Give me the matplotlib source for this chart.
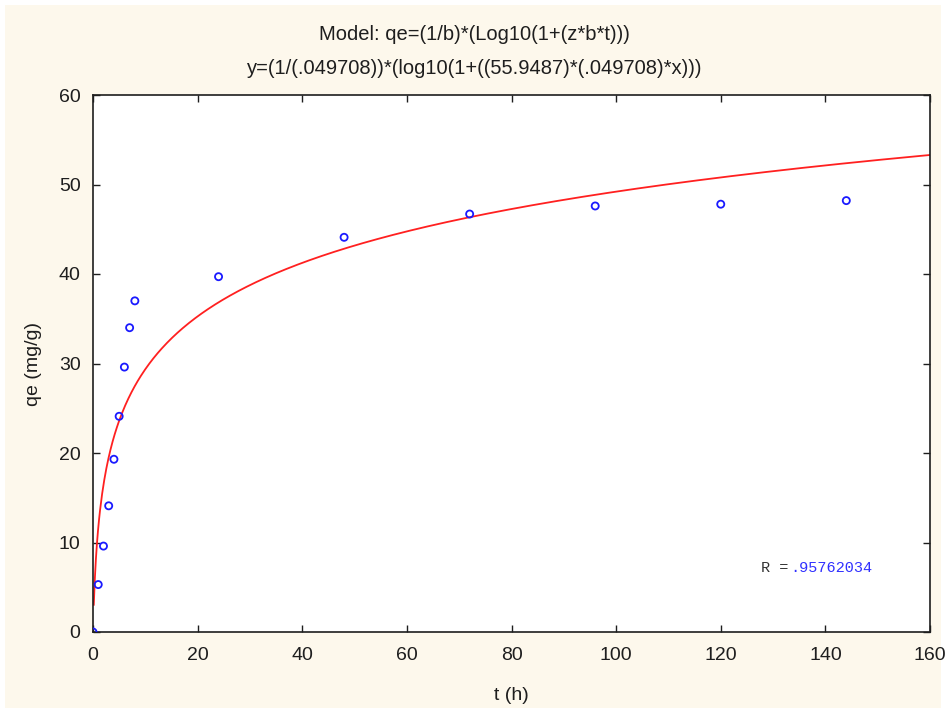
import matplotlib
matplotlib.use('Agg')
import matplotlib.pyplot as plt
import matplotlib.patches as mpatches
import numpy as np

# measured points
t_obs = [0, 1, 2, 3, 4, 5, 6, 7, 8, 24, 48, 72, 96, 120, 144]
qe_obs = [0.0, 5.3, 9.6, 14.1, 19.3, 24.1, 29.6, 34.0, 37.0, 39.7, 44.1, 46.7, 47.6, 47.8, 48.2]

# fitted Elovich parameters from the title
b = 0.049708
z = 55.9487
r_value = '.95762034'

x_ticks = [0, 20, 40, 60, 80, 100, 120, 140, 160]
y_ticks = [0, 10, 20, 30, 40, 50, 60]

cream = '#fdf8ec'
ink = '#1e1e1e'

fig = plt.figure(figsize=(9.46, 7.13), dpi=100)
fig.patch.set_facecolor('white')
fig.patches.append(mpatches.Rectangle((5 / 946, 5 / 713), 936 / 946, 703 / 713,
                                      transform=fig.transFigure, facecolor=cream,
                                      edgecolor='none', zorder=-1))

ax = fig.add_axes([93 / 946, 81 / 713, 837 / 946, 537 / 713])
ax.set_facecolor('white')

t_fit = np.linspace(0.15, 160, 800)
q_fit = (1 / b) * np.log10(1 + z * b * t_fit)
ax.plot(t_fit, q_fit, color='#ff2020', lw=1.3, zorder=2)
ax.scatter(t_obs, qe_obs, s=26, facecolors='none', edgecolors='#1a1aff', linewidths=1.3, zorder=3)

ax.set_xlim(0, 160)
ax.set_ylim(0, 60)
ax.set_xticks(x_ticks)
ax.set_yticks(y_ticks)
ax.tick_params(direction='in', top=True, right=True, length=5, width=1, labelsize=14,
               colors=ink)
ax.tick_params(axis='x', pad=11)
ax.tick_params(axis='y', pad=9)
for lab in ax.get_xticklabels() + ax.get_yticklabels():
    lab.set_fontfamily('Liberation Sans')
for sp in ax.spines.values():
    sp.set_linewidth(1.2)
    sp.set_color(ink)

ax.set_xlabel('t (h)', fontsize=14, family='Liberation Sans', labelpad=16, color=ink)
ax.set_ylabel('qe (mg/g)', fontsize=14, family='Liberation Sans', labelpad=12, color=ink)

fig.text(0.502, 1 - 35 / 713, 'Model: qe=(1/b)*(Log10(1+(z*b*t)))', ha='center', va='center',
         fontsize=14.5, family='Liberation Sans', color=ink)
fig.text(0.502, 1 - 68 / 713, 'y=(1/(.049708))*(log10(1+((55.9487)*(.049708)*x)))', ha='center',
         va='center', fontsize=14.5, family='Liberation Sans', color=ink)

ax.text(127.6, 7.2, 'R =', family='Liberation Mono', fontsize=11, color='#333333', va='center')
ax.text(133.2, 7.2, r_value, family='Liberation Mono', fontsize=11, color='#3030ff', va='center')

plt.savefig('out.png', dpi=100, facecolor=fig.get_facecolor())
plt.close()
